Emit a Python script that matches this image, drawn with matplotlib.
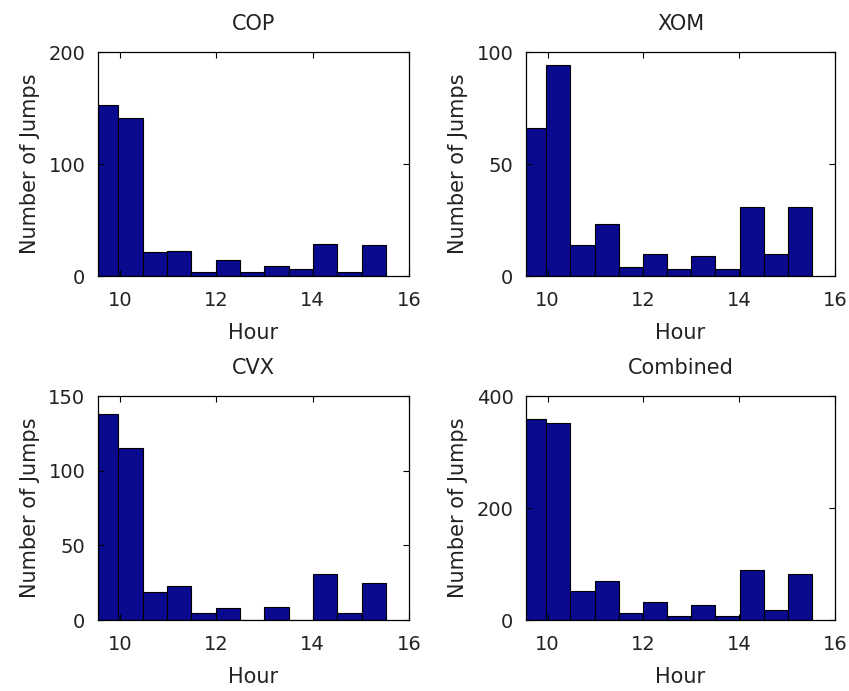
import matplotlib
matplotlib.use("Agg")
import matplotlib.pyplot as plt
import numpy as np

plt.rcParams['font.family'] = ['DejaVu Sans']

titles = ["COP", "XOM", "CVX", "Combined"]
bin_left = 9.465
bin_width = 0.505
n_bins = 12
cop = [153, 141, 21, 22, 4, 14, 4, 9, 6, 29, 4, 28]
xom = [66, 94, 14, 23, 4, 10, 3, 9, 3, 31, 10, 31]
cvx = [138, 115, 19, 23, 5, 8, 0, 9, 0, 31, 5, 25]
combined = [359, 352, 52, 69, 12, 32, 8, 26, 8, 89, 18, 83]
series = [cop, xom, cvx, combined]
yticks = [[0, 100, 200], [0, 50, 100], [0, 50, 100, 150], [0, 200, 400]]
xticks = [10, 12, 14, 16]

W, H = 849, 691
fig = plt.figure(figsize=(W / 100, H / 100), dpi=100)
boxes = [(98, 52, 409, 276), (526, 52, 835, 276), (98, 396, 409, 620), (526, 396, 835, 620)]
edges = bin_left + bin_width * np.arange(n_bins)
for (l, t, r, b), title, vals, yt in zip(boxes, titles, series, yticks):
    ax = fig.add_axes([l / W, 1 - b / H, (r - l) / W, (b - t) / H])
    ax.bar(edges, vals, width=bin_width, align='edge', color='#0a0a8f',
           edgecolor='black', linewidth=0.8)
    ax.set_xlim(9.55, 16)
    ax.set_ylim(yt[0], yt[-1])
    ax.set_xticks(xticks)
    ax.set_yticks(yt)
    ax.tick_params(direction='in', top=True, right=True, length=4, width=0.8,
                   labelsize=14, labelcolor='#222222')
    ax.tick_params(axis='x', pad=11)
    ax.tick_params(axis='y', pad=9)
    for s in ax.spines.values():
        s.set_linewidth(0.9)
    ax.set_title(title, fontsize=15, pad=16, color='#222222')
    ax.set_xlabel("Hour", fontsize=15, labelpad=9, color='#222222')
    ax.set_ylabel("Number of Jumps", fontsize=15, labelpad=6, color='#222222')

fig.savefig("out.png", dpi=100)
